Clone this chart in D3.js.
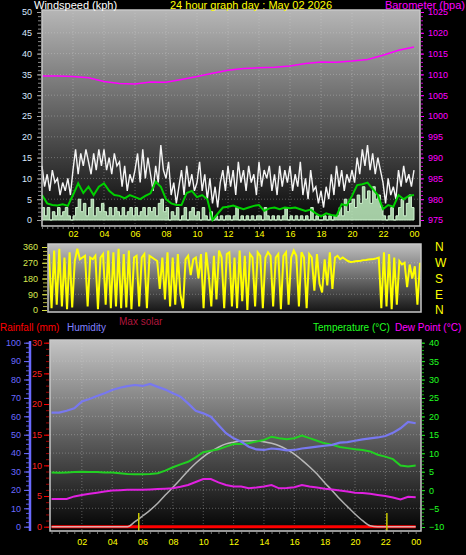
<!DOCTYPE html>
<html><head><meta charset="utf-8">
<script src="https://cdn.jsdelivr.net/npm/d3@7"></script>
<style>body{margin:0;background:#000;overflow:hidden}svg{display:block}</style>
</head><body><script>
// ---------- DATA ----------
const titleText = "24 hour graph day : May 02 2026";
const hourTicks = [2,4,6,8,10,12,14,16,18,20,22,24];
// wind gust (kph), every 10 minutes from 00:00
const windGust = [
13,8,11,7,12,9, 10,6,9,7,10,6, 12,17,11,16,13,17, 14,11,16,12,17,13,
17,12,15,11,16,13, 14,8,13,7,11,9, 12,16,9,17,10,15, 11,7,13,9,18,12,
10,14,6,9,4,8, 12,6,13,8,11,7, 9,14,7,11,5,10, 4,8,3,9,12,7,
13,8,12,6,14,9, 12,7,13,9,11,6, 14,8,12,10,13,7, 11,6,13,8,12,9,
13,7,11,8,14,6, 10,5,12,7,8,4, 7,3,8,5,11,6, 13,8,12,7,11,9,
12,9,15,11,17,13, 18,12,16,11,15,12, 9,4,10,6,8,5, 12,8,13,9,11,8, 12];
// wind speed (kph), every 10 minutes
const windSpeed = [
3,1,3,0,2,1, 3,1,2,3,1,0, 1,3,5,2,4,1, 3,5,1,3,2,4,
2,1,3,1,3,2, 1,3,1,2,3,1, 3,1,2,3,1,3, 2,3,1,4,5,2,
3,0,2,1,3,0, 1,3,0,2,3,1, 2,0,3,1,0,2, 0,1,0,1,0,1,
1,0,1,3,0,1, 0,1,0,1,0,1, 1,0,3,1,0,1, 0,1,0,1,3,0,
1,0,1,0,1,0, 1,0,3,0,1,0, 0,1,0,1,0,1, 1,3,1,5,2,4,
5,3,6,4,8,5, 7,4,8,5,6,3, 1,0,1,3,0,1, 3,5,1,4,6,3, 3];
// average wind speed (kph), every 20 minutes
const windAvg = [
6,4,3.6, 3.5,3.8,3.4, 6,8.8,6.5, 8,6,8, 8.8,7,6, 5.8,5.2,6,
5.5,5,5.8, 6.4,9.2,8, 5,4,3.6, 3.6,6.5,7, 5.5,6,5, 0,1.5,3,
3.2,3.5,3, 2.6,3,3.4, 3.6,2.2,2.8, 3,2.6,3, 2.8,3,2.6, 2.2,2.5,1.6,
0.9,1.6,1.2, 1,3.8,3.5, 5.8,8.4,8.6, 9,7.5,6, 2.6,3.6,3.2, 6,5,5.8, 6];
// barometer (hpa), hourly
const barometer = [1009.6,1009.6,1009.5,1009.2,1008.3,1007.8,1007.7,1008.2,1008.1,1008.8,
1009.5,1010.3,1011.0,1011.4,1011.6,1011.7,1012.0,1012.6,1013.0,1012.9,1013.2,1013.6,1014.6,1015.8,1016.6];
// wind direction (deg), every 10 minutes
const windDir = [
320,10,340,30,350,20, 300,5,330,15,280,350, 290,300,310,20,300,290, 310,5,300,320,30,340,
10,330,20,350,10,320, 15,340,5,300,310,20, 300,320,10,310,300,290, 280,120,300,60,330,20,
300,30,320,90,10,290, 310,200,290,300,180,320, 10,330,200,20,310,60, 340,300,10,320,330,20,
300,10,340,50,310,0, 320,300,20,330,310,10, 300,330,310,20,300,320, 5,310,330,30,300,340,
310,20,330,300,10,320, 300,110,320,150,100,290, 140,330,120,300,310,290, 300,290,280,275,276,278,
280,282,285,286,288,290, 292,295,300,10,330,20, 320,5,300,30,280,260, 270,130,260,180,250,30, 270];
// humidity (%), every 30 minutes
const humidity = [62,62,63,64.3,68,69.4,71,72.5,74.3,75.5,76.4,77,76.5,77.6,76,74.5,72.5,70.7,67,63,
61.6,59.8,55.3,50.8,48,46.2,43.5,42,41.7,42.5,42.2,41.5,41.7,42.5,43,43.5,44,44.5,45.7,46,
46.7,47.5,48,48.5,49.3,51,53.5,57,56.2];
// temperature (°C), every 30 minutes
const temperature = [4.8,4.7,4.8,4.9,5.0,4.9,4.9,4.8,4.8,4.6,4.4,4.3,4.3,4.4,4.6,5.3,6.2,7,7.7,8.9,
10.3,10.7,11.1,11.8,12.5,12.5,12.7,13.2,13.6,14.5,14.1,13.8,14.1,14.8,14.1,13.4,12.7,12.3,11.7,11.4,
11.1,10.9,10.5,9.6,9.1,8.4,6.7,6.4,6.7];
// dew point (°C), every 30 minutes
const dewPoint = [-2.4,-2.4,-2.4,-1.7,-1.3,-1.0,-0.7,-0.4,-0.1,0,0.1,0.1,0.1,0.2,0.3,0.4,0.5,0.9,1.4,2.2,
3.0,3.0,2.1,1.4,1.0,1.0,0.5,0.7,1.0,1.4,0.5,0.6,0.8,1.4,1.0,0.7,0.4,0.2,-0.1,-0.4,
-0.7,-0.8,-1.0,-1.3,-1.6,-2.0,-2.5,-1.8,-1.9];
// max solar (W/m2), every 30 minutes
const maxSolar = [0,0,0,0,0,0,0,0,0,0,0,27,58,90,127,172,214,258,304,345,380,408,432,450,459,466,467,466,
462,453,440,420,395,362,326,286,239,196,150,109,69,33,5,0,0,0,0,0,0];
// rainfall (mm), hourly
const rainfall = [0,0,0,0,0,0,0,0,0,0,0,0,0,0,0,0,0,0,0,0,0,0,0,0,0];
// yellow event markers (hour)
const sunEvents = [5.75, 22.1];

// ---------- CHART ----------
const W=466,H=555, FONT='"Liberation Sans",Arial,sans-serif';
const svg=d3.select("body").append("svg").attr("width",W).attr("height",H);
svg.append("rect").attr("width",W).attr("height",H).attr("fill","#000");
const defs=svg.append("defs");
function grad(id,stops){const g=defs.append("linearGradient").attr("id",id).attr("x1",0).attr("y1",0).attr("x2",0).attr("y2",1);
  stops.forEach(([o,c])=>g.append("stop").attr("offset",o).attr("stop-color",c));}
grad("gTop",[[0,"#b6b6b6"],[0.5,"#5e5e5e"],[1,"#040404"]]);
grad("gDir",[[0,"#c0c0c0"],[1,"#151515"]]);
grad("gBot",[[0,"#c4c4c4"],[0.5,"#606060"],[1,"#030303"]]);

const t10=d3.range(windGust.length).map(i=>i/6);
const t20=d3.range(windAvg.length).map(i=>i/3);
const t30=d3.range(humidity.length).map(i=>i/2);
const t60=d3.range(barometer.length);

function styleAxis(g,lineColor,textColor,fs){
  g.select(".domain").remove();
  g.selectAll(".tick line").attr("stroke",lineColor);
  g.selectAll(".tick text").attr("fill",textColor).style("font-size",fs+"px").style("font-family",FONT);
  return g;
}
function minor(axis,x,y,color){
  const g=svg.append("g").attr("transform",`translate(${x},${y})`).call(axis.tickFormat(""));
  g.select(".domain").remove(); g.selectAll(".tick line").attr("stroke",color);
}
function hgrid(scale,vals,x0,x1){
  svg.append("g").selectAll("line").data(vals).join("line")
   .attr("x1",x0).attr("x2",x1).attr("y1",d=>scale(d)).attr("y2",d=>scale(d))
   .attr("stroke","rgba(215,215,215,0.35)").attr("stroke-dasharray","1,2");
}
function vgrid(scale,vals,y0,y1){
  svg.append("g").selectAll("line").data(vals).join("line")
   .attr("y1",y0).attr("y2",y1).attr("x1",d=>scale(d)).attr("x2",d=>scale(d))
   .attr("stroke","rgba(215,215,215,0.35)").attr("stroke-dasharray","1,2");
}
function frame(x0,y0,x1,y1){
  svg.append("rect").attr("x",x0).attr("y",y0).attr("width",x1-x0).attr("height",y1-y0)
   .attr("fill","none").attr("stroke","#c8c8c8").attr("stroke-width",1.5);
}
function txt(x,y,s,c,fs,anchor){
  svg.append("text").attr("x",x).attr("y",y).text(s).attr("fill",c).style("font-size",fs+"px")
   .style("font-family",FONT).attr("text-anchor",anchor||"start");
}
const f02=d=>d3.format("02")(d%24);

// ===== TOP PANEL =====
const T={x0:42,y0:10,x1:420,y1:226};
const xTop=d3.scaleLinear([0,24],[42,414]);
const yWind=d3.scaleLinear([0,50],[220,12]);
const yBaro=d3.scaleLinear([975,1025],[220,12]);
svg.append("rect").attr("x",T.x0).attr("y",T.y0).attr("width",T.x1-T.x0).attr("height",T.y1-T.y0).attr("fill","url(#gTop)");
hgrid(yWind,d3.range(5,50,5),T.x0,T.x1);
vgrid(xTop,d3.range(2,24,2),T.y0,T.y1);

svg.append("path").datum(barometer).attr("fill","none").attr("stroke","#ff00ff").attr("stroke-width",1.5)
  .attr("d",d3.line().x((d,i)=>xTop(t60[i])).y(d=>yBaro(d)));
svg.append("path").datum(windGust).attr("fill","none").attr("stroke","#f4f4f4").attr("stroke-width",1.4)
  .attr("d",d3.line().x((d,i)=>xTop(t10[i])).y(d=>yWind(d)));
svg.append("path").datum(windSpeed).attr("fill","#bfeebf").attr("fill-opacity",0.85).attr("stroke","#d0f5d0").attr("stroke-width",1)
  .attr("d",d3.area().curve(d3.curveStepAfter).x((d,i)=>xTop(t10[i])).y0(yWind(0)).y1(d=>yWind(d)));
svg.append("path").datum(windAvg).attr("fill","none").attr("stroke","#00d000").attr("stroke-width",2)
  .attr("d",d3.line().x((d,i)=>xTop(t20[i])).y(d=>yWind(d)));
frame(T.x0,T.y0,T.x1,T.y1);

minor(d3.axisLeft(yWind).tickValues(d3.range(0,51,1)).tickSize(3),T.x0-1,0,"#8a8a8a");
styleAxis(svg.append("g").attr("transform",`translate(${T.x0-1},0)`)
  .call(d3.axisLeft(yWind).tickValues(d3.range(0,51,5)).tickSize(4).tickPadding(5)),"#a0a0a0","#d8e8ff",9);
minor(d3.axisRight(yBaro).tickValues(d3.range(975,1026,1)).tickSize(2),T.x1+1,0,"#cc00cc");
styleAxis(svg.append("g").attr("transform",`translate(${T.x1+1},0)`)
  .call(d3.axisRight(yBaro).tickValues(d3.range(975,1026,5)).tickSize(3).tickPadding(4).tickFormat(d3.format("d"))),"#ff00ff","#ff00ff",9);
minor(d3.axisBottom(xTop).tickValues(d3.range(0,24.01,1/3)).tickSize(2),0,T.y1+1,"#707070");
styleAxis(svg.append("g").attr("transform",`translate(0,${T.y1})`)
  .call(d3.axisBottom(xTop).tickValues(hourTicks).tickSize(0).tickPadding(5).tickFormat(f02)),"none","#ffff00",9);

txt(34,9,"Windspeed (kph)","#ffffff",11);
txt(251,9,titleText,"#ffff00",11,"middle");
txt(465,9,"Barometer (hpa)","#ff00ff",11,"end");

// ===== DIRECTION PANEL =====
const D={x0:48,y0:244,x1:421,y1:312};
const xDir=d3.scaleLinear([0,24],[49,420]);
const yDir=d3.scaleLinear([0,360],[310,247]);
svg.append("rect").attr("x",D.x0).attr("y",D.y0).attr("width",D.x1-D.x0).attr("height",D.y1-D.y0).attr("fill","url(#gDir)");
hgrid(yDir,[90,180,270],D.x0,D.x1);
svg.append("path").datum(windDir).attr("fill","none").attr("stroke","#ffff00").attr("stroke-width",2)
  .attr("d",d3.line().x((d,i)=>xDir(t10[i])).y(d=>yDir(d)));
frame(D.x0,D.y0,D.x1,D.y1);
minor(d3.axisLeft(yDir).tickValues(d3.range(0,361,22.5)).tickSize(4),D.x0-1,0,"#b0b040");
styleAxis(svg.append("g").attr("transform",`translate(${D.x0-1},0)`)
  .call(d3.axisLeft(yDir).tickValues([0,90,180,270,360]).tickSize(5).tickPadding(4)),"#d8e040","#d8e850",9);
styleAxis(svg.append("g").attr("transform",`translate(${D.x1},0)`)
  .call(d3.axisRight(yDir).tickValues([0,90,180,270,360]).tickSize(0).tickPadding(14)
  .tickFormat(d=>({0:"N",90:"E",180:"S",270:"W",360:"N"})[d])),"none","#ffff00",12);

// ===== BOTTOM PANEL =====
const B={x0:50,y0:340,x1:421,y1:531};
const xBot=d3.scaleLinear([0,24],[51.5,415.7]);
const yHum=d3.scaleLinear([0,100],[526.7,342.7]);
const yRain=d3.scaleLinear([0,30],[526.7,342.7]);
const yTemp=d3.scaleLinear([-10,40],[527,342.7]);
const ySolar=d3.scaleLinear([0,1000],[526.7,342.7]);
svg.append("rect").attr("x",B.x0).attr("y",B.y0).attr("width",B.x1-B.x0).attr("height",B.y1-B.y0).attr("fill","url(#gBot)");
hgrid(yHum,d3.range(10,100,10),B.x0,B.x1);
vgrid(xBot,d3.range(2,24,2),B.y0,B.y1);

svg.append("path").datum(rainfall).attr("fill","none").attr("stroke","#ff0000").attr("stroke-width",3)
  .attr("d",d3.line().x((d,i)=>xBot(t60[i])).y(d=>yRain(d)));
svg.append("path").datum(maxSolar).attr("fill","none").attr("stroke","#d4d4d4").attr("stroke-opacity",0.8).attr("stroke-width",1.5)
  .attr("d",d3.line().curve(d3.curveMonotoneX).x((d,i)=>xBot(t30[i])).y(d=>ySolar(d)));
svg.append("path").datum(dewPoint).attr("fill","none").attr("stroke","#e020e0").attr("stroke-width",2)
  .attr("d",d3.line().x((d,i)=>xBot(t30[i])).y(d=>yTemp(d)));
svg.append("path").datum(temperature).attr("fill","none").attr("stroke","#22d022").attr("stroke-width",2)
  .attr("d",d3.line().x((d,i)=>xBot(t30[i])).y(d=>yTemp(d)));
svg.append("path").datum(humidity).attr("fill","none").attr("stroke","#7878f0").attr("stroke-width",2.2)
  .attr("d",d3.line().x((d,i)=>xBot(t30[i])).y(d=>yHum(d)));
svg.append("g").selectAll("line").data(sunEvents).join("line")
  .attr("x1",d=>xBot(d)).attr("x2",d=>xBot(d)).attr("y1",513).attr("y2",B.y1)
  .attr("stroke","#c8c800").attr("stroke-width",1.5);
frame(B.x0,B.y0,B.x1,B.y1);

// humidity axis
svg.append("line").attr("x1",30).attr("x2",30).attr("y1",341).attr("y2",531).attr("stroke","#6a6aff").attr("stroke-width",2.5);
minor(d3.axisLeft(yHum).tickValues(d3.range(0,101,2.5)).tickSize(3),29,0,"#5a5ae0");
styleAxis(svg.append("g").attr("transform","translate(29,0)")
  .call(d3.axisLeft(yHum).tickValues(d3.range(0,101,10)).tickSize(5).tickPadding(3)),"#6a6aff","#6a6aff",9);
// rainfall axis
minor(d3.axisLeft(yRain).tickValues(d3.range(0,31,1)).tickSize(3),49,0,"#a00000");
styleAxis(svg.append("g").attr("transform","translate(49,0)")
  .call(d3.axisLeft(yRain).tickValues(d3.range(0,31,5)).tickSize(5).tickPadding(2)),"#ff0000","#ff2020",9);
// temperature axis
minor(d3.axisRight(yTemp).tickValues(d3.range(-10,41,1)).tickSize(2),B.x1+1,0,"#10b010");
styleAxis(svg.append("g").attr("transform",`translate(${B.x1+1},0)`)
  .call(d3.axisRight(yTemp).tickValues(d3.range(-10,41,5)).tickSize(3).tickPadding(4)),"#20e020","#20ff20",9);
minor(d3.axisBottom(xBot).tickValues(d3.range(0,24.01,0.5)).tickSize(2),0,B.y1+1,"#707070");
styleAxis(svg.append("g").attr("transform",`translate(0,${B.y1})`)
  .call(d3.axisBottom(xBot).tickValues(hourTicks).tickSize(0).tickPadding(8).tickFormat(f02)),"none","#ffff00",9);

txt(0,331,"Rainfall (mm)","#ff0000",10);
txt(67,331,"Humidity","#8080ff",10);
txt(119,325,"Max solar","#b0163c",10);
txt(313,331,"Temperature (°C)","#20ff20",10);
txt(395,331,"Dew Point (°C)","#ff00ff",10);
</script></body></html>
